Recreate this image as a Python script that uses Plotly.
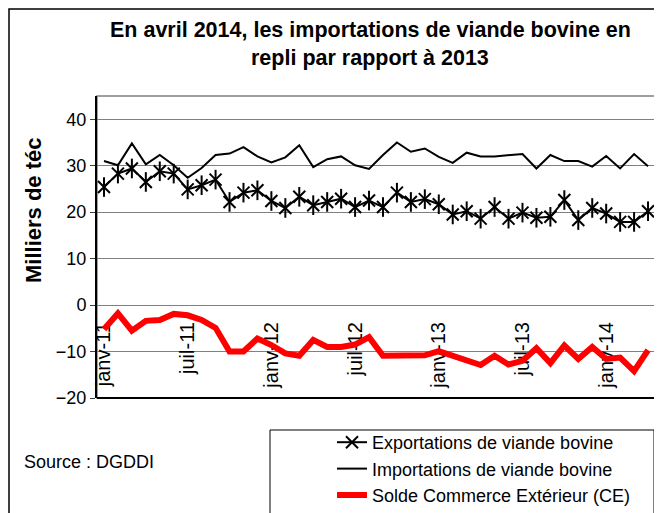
import plotly.graph_objects as go

months = [
    "janv-11", "févr-11", "mars-11", "avr-11", "mai-11", "juin-11",
    "juil-11", "août-11", "sept-11", "oct-11", "nov-11", "déc-11",
    "janv-12", "févr-12", "mars-12", "avr-12", "mai-12", "juin-12",
    "juil-12", "août-12", "sept-12", "oct-12", "nov-12", "déc-12",
    "janv-13", "févr-13", "mars-13", "avr-13", "mai-13", "juin-13",
    "juil-13", "août-13", "sept-13", "oct-13", "nov-13", "déc-13",
    "janv-14", "févr-14", "mars-14", "avr-14",
]

exportations = [
    25.4, 28.3, 29.4, 26.5, 28.8, 28.3, 24.9, 25.8, 27.0, 22.2,
    24.2, 24.7, 22.4, 20.9, 23.3, 21.5, 22.2, 22.9, 21.1, 22.5,
    21.1, 24.2, 22.2, 22.8, 21.7, 19.5, 20.2, 18.6, 21.1, 18.6,
    19.9, 18.8, 19.0, 22.6, 18.3, 20.9, 19.7, 17.9, 17.9, 20.2,
]

importations = [
    31.0, 30.1, 34.8, 30.3, 32.3, 30.1, 27.4, 29.5, 32.3, 32.6,
    34.0, 32.0, 30.7, 31.8, 34.4, 29.7, 31.4, 32.0, 30.1, 29.3,
    32.3, 35.0, 33.0, 33.7, 31.9, 30.6, 32.8, 32.0, 32.0, 32.3,
    32.5, 29.4, 32.3, 31.0, 31.0, 29.8, 32.1, 29.4, 32.5, 29.9,
]

solde = [
    -5.2, -1.8, -5.5, -3.4, -3.2, -1.9, -2.2, -3.2, -4.9, -10.0,
    -10.0, -7.2, -8.6, -10.4, -10.9, -7.5, -9.0, -9.0, -8.5, -6.9,
    -10.9, -10.8, -10.6, -10.8, -9.9, -10.9, -12.2, -12.9, -10.9, -12.8,
    -12.0, -9.3, -12.5, -8.7, -11.6, -9.0, -11.6, -11.3, -14.2, -9.7,
]

y_ticks = [-20, -10, 0, 10, 20, 30, 40]
y_min, y_max = -20, 45

x = list(range(len(months)))
label_idx = list(range(0, len(months), 6))
tick_labels = [months[i] for i in label_idx]
tick_bounds = [i - 0.5 for i in label_idx]

FONT = "Arial, Liberation Sans, sans-serif"

# page body has an 8px margin: figure is laid out 8px smaller, positions in
# reference pixels are converted into plot-area (paper) fractions below
PL, PR, PT, PB = 97, 655, 96, 398
def px(xr):
    return (xr - PL) / (PR - PL)
def py(yr):
    return (PB - yr) / (PB - PT)

fig = go.Figure()

fig.add_trace(go.Scatter(
    x=x, y=exportations, mode="lines+markers",
    name="Exportations de viande bovine",
    line=dict(color="black", width=2),
    marker=dict(symbol="x-thin-open", size=12, color="black",
                line=dict(color="black", width=2)),
))
fig.add_trace(go.Scatter(
    x=x, y=exportations, mode="markers", showlegend=False, hoverinfo="skip",
    marker=dict(symbol="line-ns-open", size=14, color="black",
                line=dict(color="black", width=2)),
))
fig.add_trace(go.Scatter(
    x=x, y=importations, mode="lines",
    name="Importations de viande bovine",
    line=dict(color="black", width=2),
))
fig.add_trace(go.Scatter(
    x=x, y=solde, mode="lines",
    name="Solde Commerce Extérieur (CE)",
    line=dict(color="#ff0000", width=6),
))

zero_pos = (0 - y_min) / (y_max - y_min)

fig.update_layout(
    width=654, height=505,
    margin=dict(l=PL - 8, r=662 - PR, t=PT - 8, b=513 - PB, autoexpand=False),
    paper_bgcolor="white", plot_bgcolor="white",
    font=dict(family=FONT, size=18, color="black"),
    showlegend=True,
    legend=dict(
        x=px(332), y=py(424), xanchor="left", yanchor="top",
        font=dict(size=18, family=FONT), bgcolor="rgba(0,0,0,0)",
        borderwidth=0, tracegroupgap=0,
    ),
    xaxis=dict(
        range=[-0.5, len(months) - 0.5],
        tickmode="array", tickvals=label_idx, ticktext=tick_labels,
        tickangle=-90, ticks="", showgrid=False, zeroline=False,
        showline=False, anchor="free", position=zero_pos,
        tickfont=dict(size=20), layer="below traces",
        ticklabelstandoff=12, automargin=False,
    ),
    xaxis2=dict(
        range=[-0.5, len(months) - 0.5], overlaying="x",
        tickmode="array", tickvals=tick_bounds, ticktext=[""] * len(tick_bounds),
        ticks="outside", ticklen=7, tickcolor="#808080", tickwidth=2,
        showticklabels=False, showgrid=False, zeroline=False, showline=False,
        anchor="free", position=zero_pos, side="bottom",
    ),
    yaxis=dict(
        range=[y_min, y_max], tickmode="array", tickvals=y_ticks,
        showgrid=True, gridcolor="#808080", gridwidth=1,
        zeroline=False, showline=True, linecolor="black", linewidth=2,
        ticks="outside", ticklen=5, tickcolor="#404040",
        tickfont=dict(size=18), automargin=False,
    ),
    shapes=[
        dict(type="rect", xref="paper", yref="paper", x0=0, y0=0, x1=1, y1=1,
             line=dict(color="#808080", width=1.5), layer="below"),
        dict(type="line", xref="paper", yref="paper", x0=0, y0=0, x1=1, y1=0,
             line=dict(color="black", width=2)),
        # outer chart frame
        dict(type="rect", xref="paper", yref="paper",
             x0=px(9), x1=px(657), y0=py(560), y1=py(9),
             line=dict(color="black", width=1.5)),
        # legend box
        dict(type="rect", xref="paper", yref="paper",
             x0=px(270), x1=px(654), y0=py(540), y1=py(430),
             line=dict(color="black", width=1)),
    ],
    annotations=[
        dict(text="<b>En avril 2014, les importations de viande bovine en</b>",
             xref="paper", yref="paper", x=px(370), y=py(30),
             xanchor="center", yanchor="middle", showarrow=False,
             font=dict(size=21.5, family=FONT)),
        dict(text="<b>repli par rapport à 2013</b>",
             xref="paper", yref="paper", x=px(370), y=py(58),
             xanchor="center", yanchor="middle", showarrow=False,
             font=dict(size=21.5, family=FONT)),
        dict(text="<b>Milliers de téc</b>", textangle=-90,
             xref="paper", yref="paper", x=px(33), y=py(210),
             xanchor="center", yanchor="middle", showarrow=False,
             font=dict(size=22, family=FONT)),
        dict(text="Source : DGDDI",
             xref="paper", yref="paper", x=px(22), y=py(462),
             xanchor="left", yanchor="middle", showarrow=False,
             font=dict(size=18, family=FONT)),
    ],
)

fig.write_html("out.html")
